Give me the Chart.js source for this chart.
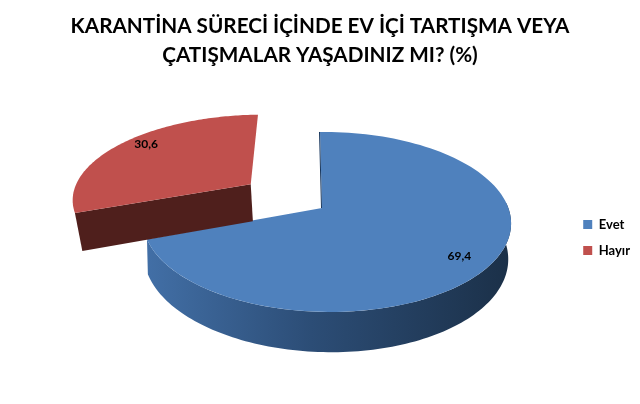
<!DOCTYPE html>
<html>
<head>
<meta charset="utf-8">
<style>
body { margin: 0; background: #fff; }
</style>
<script src="https://cdn.jsdelivr.net/npm/chart.js@4"></script>
</head>
<body>
<canvas id="chart" width="640" height="404"></canvas>
<script>
const titleLines = ["KARANTİNA SÜRECİ İÇİNDE EV İÇİ TARTIŞMA VEYA", "ÇATIŞMALAR YAŞADINIZ MI? (%)"];
const categories = ["Evet", "Hayır"];
const values = [69.4, 30.6];
const topColors = ["#4f81bd", "#c0504d"];
const cutColors = ["#17365d", "#4f1f1c"];
const explode = [0, 50];
const widen = [1, 1.05];
const depthScale = [1, 1.15];
const narrowLeft = [0.995, 0.97];
const labelRadius = [0.84, 0.87];
const labelTurn = [0.02, 0.087];

// tilted disc: unit circle -> screen, near side is larger
const view = { x: 322, y: 208, rx: 181.7, ry: 87.8, ku: 0.025, kv: 0.155, skew: 2.3, depth: 34, narrowRight: 0.985 };

function project(u, v, i, down) {
    const w = 1 - view.kv * v - view.ku * u;
    const x = (view.rx * u + view.skew * v) / w;
    const narrow = x > 0 ? view.narrowRight : narrowLeft[i];
    return {
        x: view.x + x * (down ? narrow : 1),
        y: view.y + view.ry * v / w + (down ? view.depth * depthScale[i] / w : 0)
    };
}

function sliceShift(el) {
    const mid = (el.startAngle + el.endAngle) / 2;
    return {
        du: Math.cos(mid) * el.options.offset / el.outerRadius,
        dv: Math.sin(mid) * el.options.offset / el.outerRadius
    };
}

function polygon(ctx, pts, color) {
    ctx.beginPath();
    pts.forEach((p, i) => i ? ctx.lineTo(p.x, p.y) : ctx.moveTo(p.x, p.y));
    ctx.closePath();
    ctx.fillStyle = color;
    ctx.fill();
}

function rimPoint(g, a, i, down) {
    return project(Math.cos(a) * widen[i] + g.du, Math.sin(a) + g.dv, i, down);
}

function rimPoints(g, from, to, i, down) {
    const pts = [];
    const steps = 120;
    for (let s = 0; s <= steps; s++) {
        pts.push(rimPoint(g, from + (to - from) * s / steps, i, down));
    }
    return pts;
}

const pie3d = {
    id: "pie3d",
    beforeDatasetsDraw(chart) {
        const ctx = chart.ctx;
        const arcs = chart.getDatasetMeta(0).data;
        const wall = ctx.createLinearGradient(147, 0, 511, 0);
        wall.addColorStop(0, "#426fa6");
        wall.addColorStop(0.45, "#2c4d76");
        wall.addColorStop(1, "#1b3048");
        ctx.save();
        arcs.forEach((el, i) => {
            const g = sliceShift(el);
            const apex = project(g.du, g.dv, i, false);
            const apexLow = project(g.du, g.dv, i, true);
            const rim = rimPoints(g, el.startAngle, el.endAngle, i, false);

            if (i === 0) {
                // outer wall, only the part facing the viewer
                const upper = rimPoints(g, Math.max(el.startAngle, -0.06), Math.min(el.endAngle, Math.PI + 0.06), i, false);
                const lower = rimPoints(g, Math.max(el.startAngle, -0.06), Math.min(el.endAngle, Math.PI + 0.06), i, true);
                polygon(ctx, upper.concat(lower.reverse()), wall);
            } else {
                // cut face in front of the exploded slice
                polygon(ctx, [apex, rim[0], rimPoint(g, el.startAngle, i, true), apexLow], cutColors[i]);
            }

            polygon(ctx, [apex].concat(rim), topColors[i]);

            if (i === 0) {
                // thin dark edge on the back cut of the big slice
                ctx.beginPath();
                ctx.moveTo(apex.x - 0.5, apex.y);
                ctx.lineTo(rim[0].x - 0.5, rim[0].y);
                ctx.strokeStyle = cutColors[0];
                ctx.lineWidth = 1;
                ctx.stroke();
            }
        });

        // value labels
        ctx.font = "bold 12px Lato";
        ctx.fillStyle = "#000";
        ctx.textAlign = "center";
        ctx.textBaseline = "middle";
        arcs.forEach((el, i) => {
            const g = sliceShift(el);
            const mid = (el.startAngle + el.endAngle) / 2 + labelTurn[i];
            const p = project(Math.cos(mid) * labelRadius[i] * widen[i] + g.du, Math.sin(mid) * labelRadius[i] + g.dv, i, false);
            ctx.fillText(values[i].toFixed(1).replace(".", ","), p.x, p.y);
        });
        ctx.restore();
        return false;
    }
};

new Chart(document.getElementById("chart"), {
    type: "pie",
    data: {
        labels: categories,
        datasets: [{
            data: values,
            backgroundColor: topColors,
            borderWidth: 0,
            offset: explode,
            radius: 100
        }]
    },
    plugins: [pie3d],
    options: {
        responsive: false,
        animation: false,
        devicePixelRatio: 1,
        layout: { padding: { top: 0, right: 0, bottom: 0, left: 0 } },
        plugins: {
            title: {
                display: true,
                text: titleLines,
                color: "#000",
                font: { family: "Lato", size: 20.7, weight: "bold", lineHeight: 1.38 },
                padding: { top: 12, bottom: 2 }
            },
            legend: {
                position: "right",
                fullSize: false,
                labels: {
                    boxWidth: 9,
                    boxHeight: 9,
                    padding: 13,
                    color: "#000",
                    font: { family: "Lato", size: 13, weight: "bold" }
                }
            },
            tooltip: { enabled: false }
        }
    }
});
</script>
</body>
</html>
